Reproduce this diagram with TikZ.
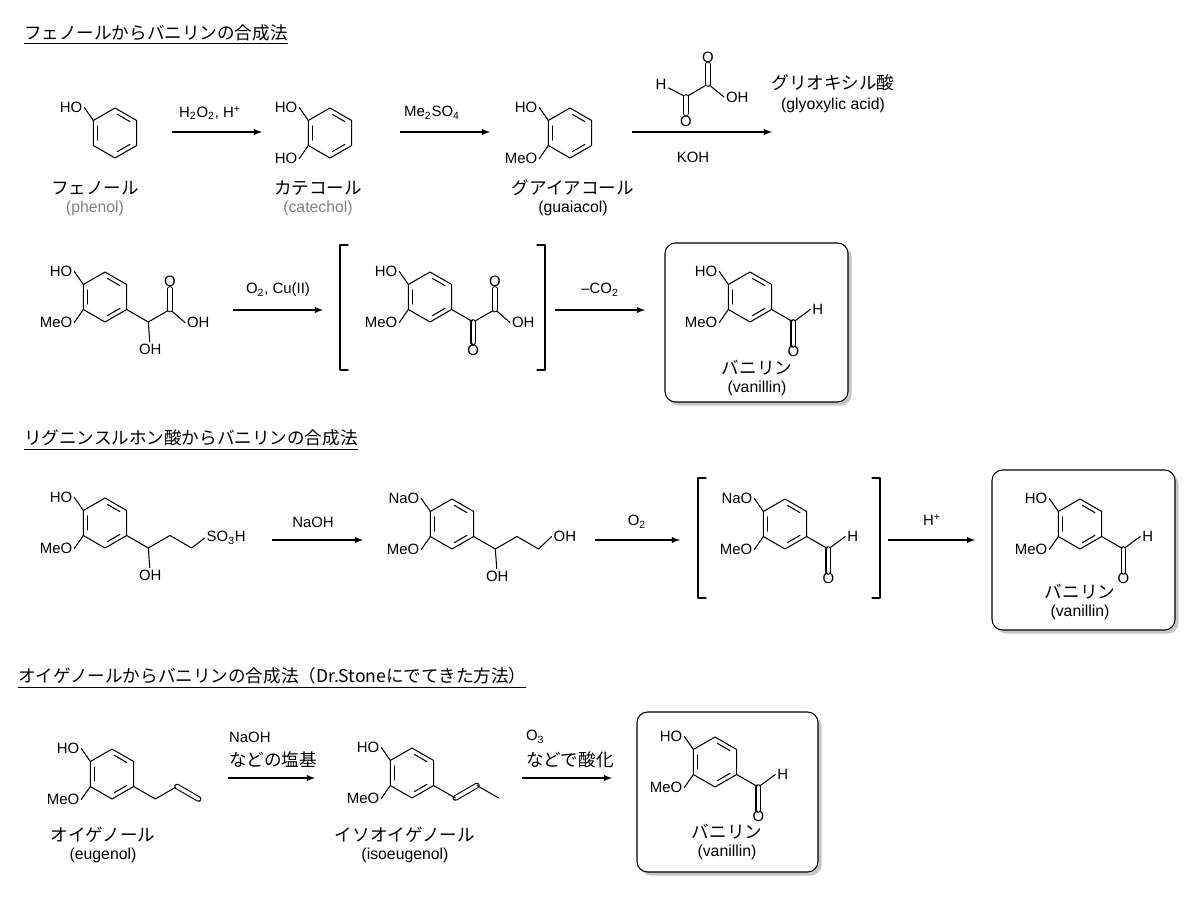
\documentclass[tikz,border=0pt]{standalone}
\usepackage{fontspec}
\setmainfont{Liberation Sans}
\newfontfamily\cjk{Noto Sans CJK JP}
\usetikzlibrary{calc, shadows, arrows}

\tikzset{
  bond/.style={line width=0.6pt, line cap=round, line join=round},
  dbl/.style={bond, double, double distance=2pt},
  lbl/.style={font=\fontsize{8.5}{10}\selectfont, inner sep=1pt},
  jp/.style={font=\cjk\fontsize{10}{12}\selectfont, inner sep=1pt},
  en/.style={font=\fontsize{9}{11}\selectfont, inner sep=1pt},
  rxn/.style={line width=0.6pt, -latex},
  prodbox/.style={line width=0.6pt, rounded corners=6, fill=white,
    drop shadow={opacity=0.45, shadow xshift=2pt, shadow yshift=-2pt}},
}

% benzene ring: prefix, centre x, centre y
\newcommand{\benz}[3]{%
  \begin{scope}[shift={(#2,#3)}]
    \coordinate (#1t) at (0,-25);
    \coordinate (#1tr) at (21.65,-12.5);
    \coordinate (#1br) at (21.65,12.5);
    \coordinate (#1b) at (0,25);
    \coordinate (#1bl) at (-21.65,12.5);
    \coordinate (#1tl) at (-21.65,-12.5);
    \draw[bond] (#1t) -- (#1tr) -- (#1br) -- (#1b) -- (#1bl) -- (#1tl) -- cycle;
    \foreach \p/\q in {t/tr,bl/tl,br/b}
      \draw[bond] ($(0,0)!0.8!($(#1\p)!0.14!(#1\q)$)$) -- ($(0,0)!0.8!($(#1\q)!0.14!(#1\p)$)$);
  \end{scope}}
% ring with O-substituent on top and MeO below
\newcommand{\guaiacyl}[4]{%
  \benz{#1}{#2}{#3}
  \node[lbl, anchor=east] (#1ho) at ($(#1tl)+(-9,-13)$) {#4};
  \node[lbl, anchor=east] (#1meo) at ($(#1bl)+(-9,13)$) {MeO};
  \draw[bond] (#1tl) -- (#1ho.east);
  \draw[bond] (#1bl) -- (#1meo.east);}
% aldehyde on the lower right vertex
\newcommand{\cho}[1]{%
  \coordinate (#1c) at ($(#1br)+(21.65,12.5)$);
  \coordinate (#1o) at ($(#1c)+(0,23)$);
  \node[lbl] (#1ol) at ($(#1c)+(0,29)$) {O};
  \node[lbl, anchor=west] (#1h) at ($(#1c)+(17,-12.5)$) {H};
  \draw[bond] (#1br) -- (#1c) -- (#1h.west);
  \draw[dbl] (#1c) -- (#1o);}

\begin{document}
\begin{tikzpicture}[x=0.02cm, y=-0.02cm]
\useasboundingbox (0,0) rectangle (1200,908);

% titles
\node[jp, anchor=west] (title1) at (22,35) {\underline{フェノールからバニリンの合成法}};
\node[jp, anchor=west] (title2) at (22,440) {\underline{リグニンスルホン酸からバニリンの合成法}};
\node[jp, anchor=west] (title3) at (16,678) {\underline{オイゲノールからバニリンの合成法（Dr.Stoneにでてきた方法）}};

% ---- route 1, first row
\benz{ph}{115}{133}
\node[lbl, anchor=east] (phho) at ($(phtl)+(-9,-13)$) {HO};
\draw[bond] (phtl) -- (phho.east);
\node[jp] (phname) at (95,188) {フェノール};
\node[en, text=gray] (phen) at (95,208) {(phenol)};

\coordinate (a1s) at (172,132); \coordinate (a1e) at (262,132);
\draw[rxn] (a1s) -- (a1e);
\node[lbl] (a1t) at (210,113) {H\textsubscript{2}O\textsubscript{2}, H\textsuperscript{+}};

\benz{ca}{330}{133}
\node[lbl, anchor=east] (caho) at ($(catl)+(-9,-13)$) {HO};
\node[lbl, anchor=east] (caho2) at ($(cabl)+(-9,13)$) {HO};
\draw[bond] (catl) -- (caho.east);
\draw[bond] (cabl) -- (caho2.east);
\node[jp] (caname) at (318,188) {カテコール};
\node[en, text=gray] (caen) at (318,208) {(catechol)};

\coordinate (a2s) at (400,132); \coordinate (a2e) at (490,132);
\draw[rxn] (a2s) -- (a2e);
\node[lbl] (a2t) at (432,113) {Me\textsubscript{2}SO\textsubscript{4}};

\guaiacyl{gu}{570}{133}{HO}
\node[jp] (guname) at (573,188) {グアイアコール};
\node[en] (guen) at (573,208) {(guaiacol)};

\coordinate (a3s) at (632,132); \coordinate (a3e) at (772,132);
\draw[rxn] (a3s) -- (a3e);
\node[lbl] (a3b) at (693,157) {KOH};
% glyoxylic acid
\coordinate (gc1) at (686,97); \coordinate (gc2) at (708,84);
\node[lbl] (gh) at (661,84) {H};
\node[lbl] (go1) at (686,121) {O};
\node[lbl] (go2) at (708,57) {O};
\node[lbl, anchor=west] (goh) at (724,97) {OH};
\draw[bond] (gh) -- (gc1) -- (gc2) -- (goh.west);
\draw[dbl] (gc1) -- (go1);
\draw[dbl] (gc2) -- (go2);
\node[jp] (glyjp) at (833,83) {グリオキシル酸};
\node[en] (glyen) at (833,105) {(glyoxylic acid)};

% ---- route 1, second row
\guaiacyl{ma}{105}{297}{HO}
\coordinate (mac) at ($(mabr)+(21.65,12.5)$);
\coordinate (mad) at ($(mac)+(21.65,-12.5)$);
\node[lbl] (maoh) at ($(mac)+(2,27)$) {OH};
\node[lbl] (mao) at ($(mad)+(0,-28)$) {O};
\node[lbl, anchor=west] (maoh2) at ($(mad)+(15,13)$) {OH};
\draw[bond] (mabr) -- (mac) -- (mad) -- (maoh2.west);
\draw[bond] (mac) -- (maoh);
\draw[dbl] (mad) -- (mao);

\coordinate (a4s) at (233,310); \coordinate (a4e) at (323,310);
\draw[rxn] (a4s) -- (a4e);
\node[lbl] (a4t) at (278,290) {O\textsubscript{2}, Cu(II)};

\draw[bond] (348,245) -- (340,245) -- (340,370) -- (348,370);
\draw[bond] (537,245) -- (545,245) -- (545,370) -- (537,370);
\guaiacyl{ke}{430}{297}{HO}
\coordinate (kec) at ($(kebr)+(21.65,12.5)$);
\coordinate (ked) at ($(kec)+(21.65,-12.5)$);
\node[lbl] (keo) at ($(kec)+(0,28)$) {O};
\node[lbl] (keo2) at ($(ked)+(0,-28)$) {O};
\node[lbl, anchor=west] (keoh) at ($(ked)+(15,13)$) {OH};
\draw[bond] (kebr) -- (kec) -- (ked) -- (keoh.west);
\draw[dbl] (kec) -- (keo);
\draw[dbl] (ked) -- (keo2);

\coordinate (a5s) at (555,310); \coordinate (a5e) at (645,310);
\draw[rxn] (a5s) -- (a5e);
\node[lbl] (a5t) at (600,290) {--CO\textsubscript{2}};

\draw[prodbox] (665,243) rectangle (848,402);
\guaiacyl{va}{750}{297}{HO}
\cho{va}
\node[jp] (vaname) at (757,368) {バニリン};
\node[en] (vaen) at (757,388) {(vanillin)};

% ---- route 2
\guaiacyl{ls}{105}{523}{HO}
\coordinate (lsa) at ($(lsbr)+(21.65,12.5)$);
\coordinate (lsb) at ($(lsa)+(21.65,-12.5)$);
\coordinate (lsc) at ($(lsb)+(21.65,12.5)$);
\node[lbl] (lsoh) at ($(lsa)+(2,27)$) {OH};
\node[lbl, anchor=west] (lsso) at ($(lsc)+(13,-10)$) {SO\textsubscript{3}H};
\draw[bond] (lsbr) -- (lsa) -- (lsb) -- (lsc) -- (lsso.west);
\draw[bond] (lsa) -- (lsoh);

\coordinate (b1s) at (272,540); \coordinate (b1e) at (363,540);
\draw[rxn] (b1s) -- (b1e);
\node[lbl] (b1t) at (313,522) {NaOH};

\guaiacyl{na}{452}{524}{NaO}
\coordinate (naa) at ($(nabr)+(21.65,12.5)$);
\coordinate (nab) at ($(naa)+(21.65,-12.5)$);
\coordinate (nac) at ($(nab)+(21.65,12.5)$);
\node[lbl] (naoh) at ($(naa)+(2,27)$) {OH};
\node[lbl, anchor=west] (naoh2) at ($(nac)+(13,-12.5)$) {OH};
\draw[bond] (nabr) -- (naa) -- (nab) -- (nac) -- (naoh2.west);
\draw[bond] (naa) -- (naoh);

\coordinate (b2s) at (595,540); \coordinate (b2e) at (680,540);
\draw[rxn] (b2s) -- (b2e);
\node[lbl] (b2t) at (637,522) {O\textsubscript{2}};

\draw[bond] (706,478) -- (698,478) -- (698,598) -- (706,598);
\draw[bond] (872,478) -- (880,478) -- (880,598) -- (872,598);
\guaiacyl{al}{785}{524}{NaO}
\cho{al}

\coordinate (b3s) at (888,540); \coordinate (b3e) at (975,540);
\draw[rxn] (b3s) -- (b3e);
\node[lbl] (b3t) at (932,520) {H\textsuperscript{+}};

\draw[prodbox] (992,470) rectangle (1175,630);
\guaiacyl{vb}{1080}{524}{HO}
\cho{vb}
\node[jp] (vbname) at (1080,592) {バニリン};
\node[en] (vben) at (1080,612) {(vanillin)};

% ---- route 3
\guaiacyl{eu}{112}{774}{HO}
\coordinate (eua) at ($(eubr)+(21.65,12.5)$);
\coordinate (eub) at ($(eua)+(21.65,-12.5)$);
\coordinate (euc) at ($(eub)+(21.65,12.5)$);
\draw[bond] (eubr) -- (eua) -- (eub);
\draw[dbl] (eub) -- (euc);
\node[jp] (euname) at (103,835) {オイゲノール};
\node[en] (euen) at (103,855) {(eugenol)};

\coordinate (c1s) at (228,778); \coordinate (c1e) at (315,778);
\draw[rxn] (c1s) -- (c1e);
\node[lbl, anchor=west] (c1t) at (227,737) {NaOH};
\node[jp, anchor=west] (c1u) at (227,760) {などの塩基};

\guaiacyl{is}{412}{773}{HO}
\coordinate (isa) at ($(isbr)+(21.65,12.5)$);
\coordinate (isb) at ($(isa)+(21.65,-12.5)$);
\coordinate (isc) at ($(isb)+(21.65,12.5)$);
\draw[dbl] (isa) -- (isb);
\draw[bond] (isbr) -- (isa) (isb) -- (isc);
\node[jp] (isname) at (405,835) {イソオイゲノール};
\node[en] (isen) at (405,855) {(isoeugenol)};

\coordinate (c2s) at (522,778); \coordinate (c2e) at (612,778);
\draw[rxn] (c2s) -- (c2e);
\node[lbl, anchor=west] (c2t) at (524,737) {O\textsubscript{3}};
\node[jp, anchor=west] (c2u) at (524,760) {などで酸化};

\draw[prodbox] (637,712) rectangle (818,872);
\guaiacyl{vc}{715}{762}{HO}
\cho{vc}
\node[jp] (vcname) at (727,832) {バニリン};
\node[en] (vcen) at (727,852) {(vanillin)};
\end{tikzpicture}
\end{document}
